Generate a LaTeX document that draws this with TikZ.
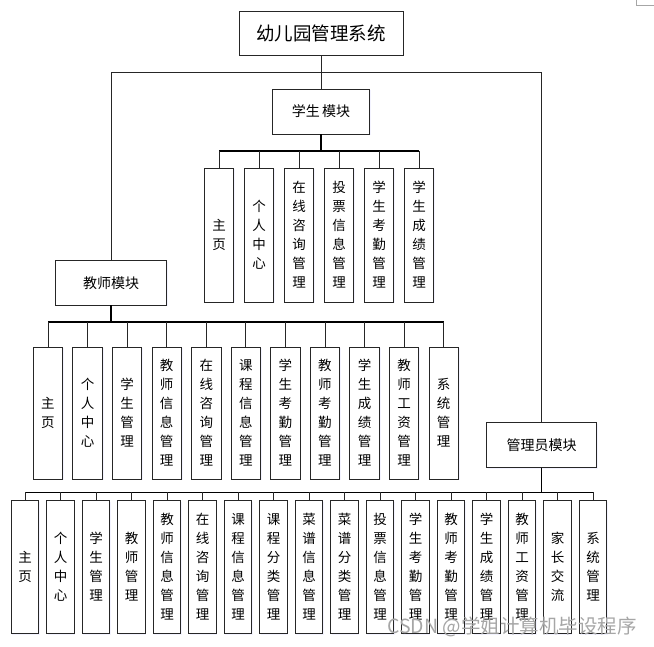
\documentclass[tikz,border=0pt]{standalone}
\usepackage{fontspec}
\newfontfamily\cjk{Noto Sans CJK SC}
\usetikzlibrary{shadows}
\tikzset{
  box/.style={draw=black!85, line width=0.9pt, fill=white, inner sep=0pt,
    drop shadow={opacity=0.12, shadow xshift=1.2pt, shadow yshift=-1.2pt, fill=blue!40}},
  modbox/.style={box, font=\cjk\fontsize{14}{16}\selectfont},
  leafbox/.style={box, align=center, font=\cjk\fontsize{13.5}{19}\selectfont},
  conn/.style={draw=black!85, line width=0.9pt},
  busline/.style={draw=black, line width=1.4pt},
}
\begin{document}
\begin{tikzpicture}[x=1pt,y=-1pt]
\useasboundingbox (0,0) rectangle (654,646);
% corner artifact
\draw[black!35, line width=0.6pt] (636,0) -- (636,5) -- (654,5);

% root and modules
\node[box, minimum width=164pt, minimum height=44pt, font=\cjk\fontsize{18.5}{20}\selectfont] (root) at (321,33) {幼儿园管理系统};
\node[modbox, minimum width=97.5pt, minimum height=45pt] (stu) at (321,111.5) {学生\,模块};
\node[modbox, minimum width=111pt, minimum height=44.3pt] (tea) at (111,282.8) {教师模块};
\node[modbox, minimum width=110pt, minimum height=44.6pt] (adm) at (541.7,445) {管理员模块};

\coordinate (tb) at (0,72);
\draw[conn] (root.south) -- (stu.north);
\draw[conn] (tea.north) -- (tea.north |- tb) -- (adm.north |- tb) -- (adm.north);

% student leaves
\coordinate (sbus) at (0,151);
\foreach \t [count=\i] in {{主\\页},{个\\人\\中\\心},{在\\线\\咨\\询\\管\\理},{投\\票\\信\\息\\管\\理},{学\\生\\考\\勤\\管\\理},{学\\生\\成\\绩\\管\\理}}{
  \node[leafbox, minimum width=29.5pt, minimum height=134pt] (s\i) at ({219+40*(\i-1)},235) {\t};
}
\draw[busline] (stu.south) -- (stu.south |- sbus);
\draw[busline] (s1.north |- sbus) -- (s6.north |- sbus);
\foreach \i in {1,...,6}{ \draw[conn] (s\i.north |- sbus) -- (s\i.north); }

% teacher leaves
\coordinate (tbus) at (0,322);
\foreach \t [count=\i] in {{主\\页},{个\\人\\中\\心},{学\\生\\管\\理},{教\\师\\信\\息\\管\\理},{在\\线\\咨\\询\\管\\理},{课\\程\\信\\息\\管\\理},{学\\生\\考\\勤\\管\\理},{教\\师\\考\\勤\\管\\理},{学\\生\\成\\绩\\管\\理},{教\\师\\工\\资\\管\\理},{系\\统\\管\\理}}{
  \node[leafbox, minimum width=29.5pt, minimum height=132pt] (t\i) at ({48+39.57*(\i-1)},413) {\t};
}
\draw[busline] (tea.south) -- (tea.south |- tbus);
\draw[busline] (t1.north |- tbus) -- (t11.north |- tbus);
\foreach \i in {1,...,11}{ \draw[conn] (t\i.north |- tbus) -- (t\i.north); }

% admin leaves
\coordinate (abus) at (0,492.3);
\foreach \t [count=\i] in {{主\\页},{个\\人\\中\\心},{学\\生\\管\\理},{教\\师\\管\\理},{教\\师\\信\\息\\管\\理},{在\\线\\咨\\询\\管\\理},{课\\程\\信\\息\\管\\理},{课\\程\\分\\类\\管\\理},{菜\\谱\\信\\息\\管\\理},{菜\\谱\\分\\类\\管\\理},{投\\票\\信\\息\\管\\理},{学\\生\\考\\勤\\管\\理},{教\\师\\考\\勤\\管\\理},{学\\生\\成\\绩\\管\\理},{教\\师\\工\\资\\管\\理},{家\\长\\交\\流},{系\\统\\管\\理}}{
  \node[leafbox, minimum width=27.5pt, minimum height=133pt] (a\i) at ({25+35.5*(\i-1)},567) {\t};
}
\draw[busline] (adm.south) -- (adm.south |- abus);
\draw[busline] (a1.north |- abus) -- (a17.north |- abus);
\foreach \i in {1,...,17}{ \draw[conn] (a\i.north |- abus) -- (a\i.north); }

% watermark
\node[text=black!35, font=\cjk\fontsize{19.5}{21}\selectfont, anchor=west, inner sep=0pt] (wm) at (387,627) {CSDN @学姐计算机毕设程序};
\end{tikzpicture}
\end{document}
